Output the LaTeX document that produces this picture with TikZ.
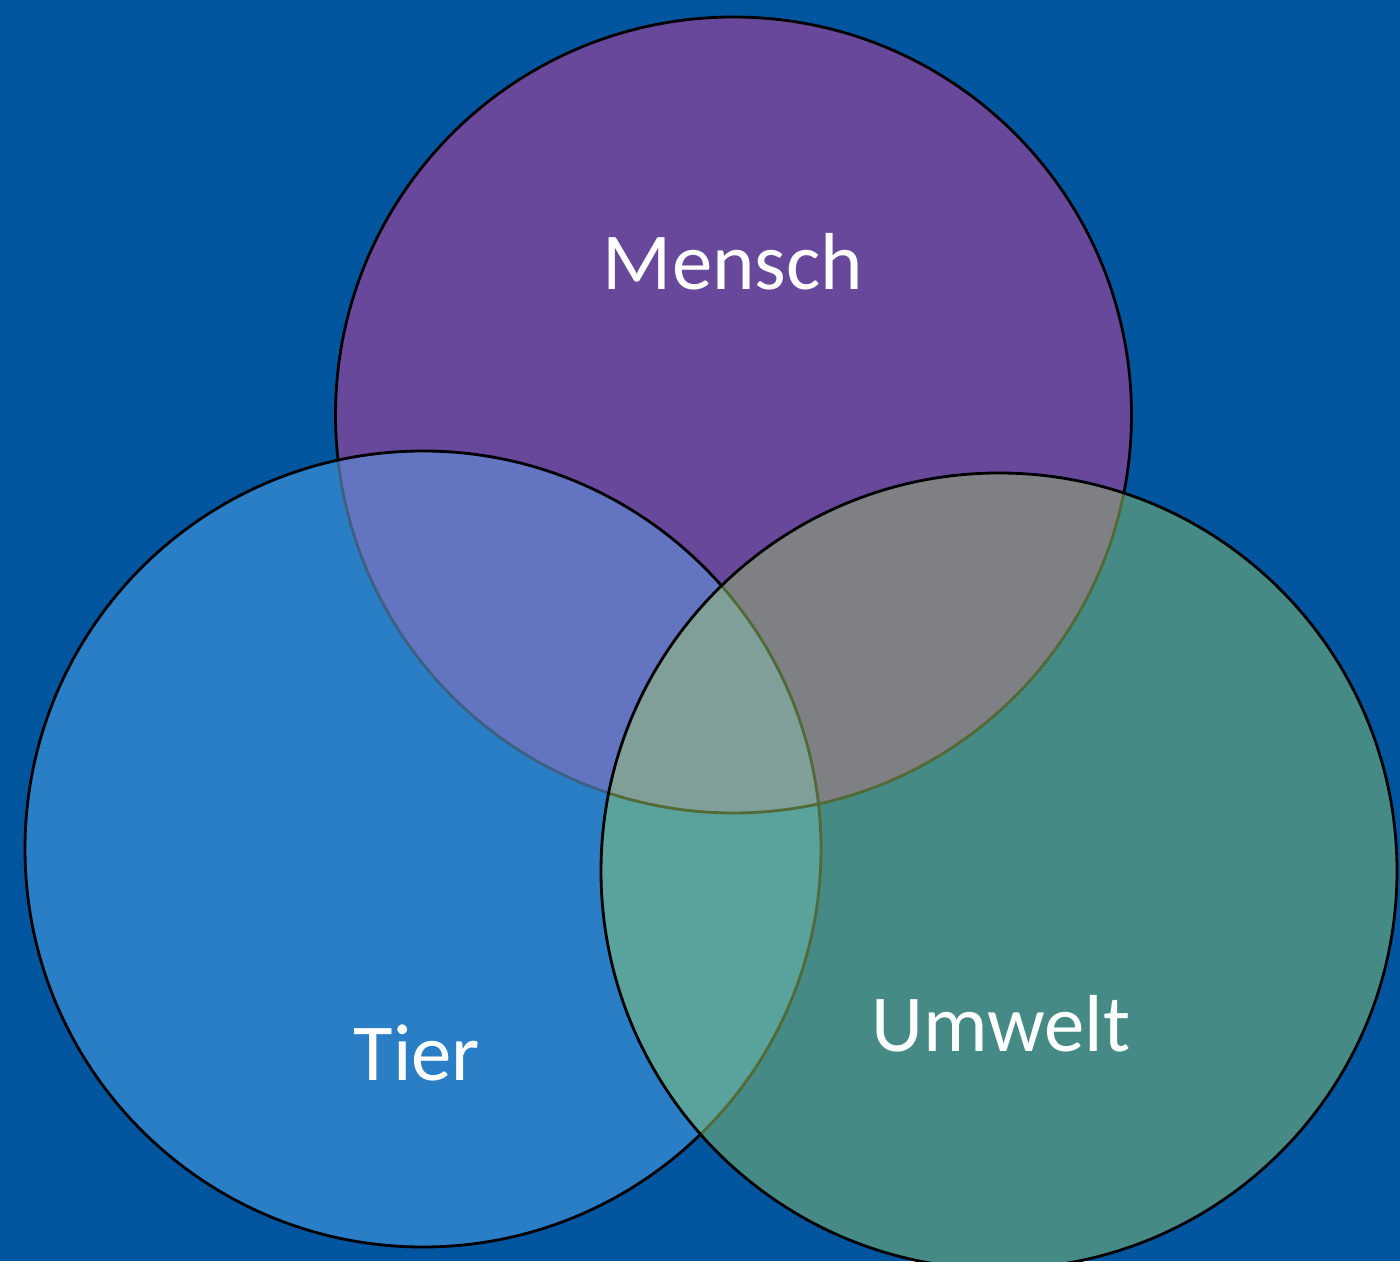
\documentclass[tikz,border=0pt]{standalone}
\usepackage{fontspec}
\setmainfont{Carlito}
\usepackage{tikz}
\usetikzlibrary{positioning}
\definecolor{backblue}{HTML}{00559F}
\definecolor{menschcol}{HTML}{68489B}
\definecolor{tiercol}{HTML}{2A7EC5}
\definecolor{umweltcol}{HTML}{458A85}
\definecolor{mtcol}{HTML}{6375C0}
\definecolor{mucol}{HTML}{7F8084}
\definecolor{tucol}{HTML}{5AA39D}
\definecolor{mtucol}{HTML}{7F9F98}
\definecolor{tierline}{HTML}{3D6183}
\definecolor{umweltline}{HTML}{526A36}
\tikzset{
	ring/.style={% circle outlines
		draw=black,
		line width=0.8pt
	},
	setname/.style={
		text=white,
		anchor=base,
		font=\fontsize{23}{27}\selectfont
	}
}
\newcommand{\rad}{3.98cm}

\begin{document}
\begin{tikzpicture}
			\useasboundingbox (0,0) rectangle (14,12.61);
			\clip (0,0) rectangle (14,12.61);
			\fill [backblue] (0,0) rectangle (14,12.61);
			\coordinate (cm) at (7.335,8.46);
			\coordinate (ct) at (4.23,4.12);
			\coordinate (cu) at (9.99,3.90);
			% Mensch
			\fill [menschcol] (cm) circle (\rad);
			\draw [ring] (cm) circle (\rad);
			% Tier
			\fill [tiercol] (ct) circle (\rad);
			\begin{scope}
				\clip (cm) circle (\rad);
				\fill [mtcol] (ct) circle (\rad);
			\end{scope}
			\begin{scope}
				\clip (ct) circle (\rad);
				\draw [ring, draw=tierline] (cm) circle (\rad);
			\end{scope}
			\draw [ring] (ct) circle (\rad);
			% Umwelt
			\fill [umweltcol] (cu) circle (\rad);
			\begin{scope}
				\clip (cm) circle (\rad);
				\fill [mucol] (cu) circle (\rad);
			\end{scope}
			\begin{scope}
				\clip (ct) circle (\rad);
				\fill [tucol] (cu) circle (\rad);
			\end{scope}
			\begin{scope}
				\clip (cm) circle (\rad);
				\clip (ct) circle (\rad);
				\fill [mtucol] (cu) circle (\rad);
			\end{scope}
			\begin{scope}
				\clip (cu) circle (\rad);
				\draw [ring, draw=umweltline] (cm) circle (\rad) (ct) circle (\rad);
			\end{scope}
			\draw [ring] (cu) circle (\rad);
			% labels
			\node [setname] (mensch) at (7.33,9.71) {Mensch};
			\node [setname] (tier) at (4.17,1.81) {Tier};
			\node [setname] (umwelt) at (10.01,2.10) {Umwelt};
\end{tikzpicture}
\end{document}
